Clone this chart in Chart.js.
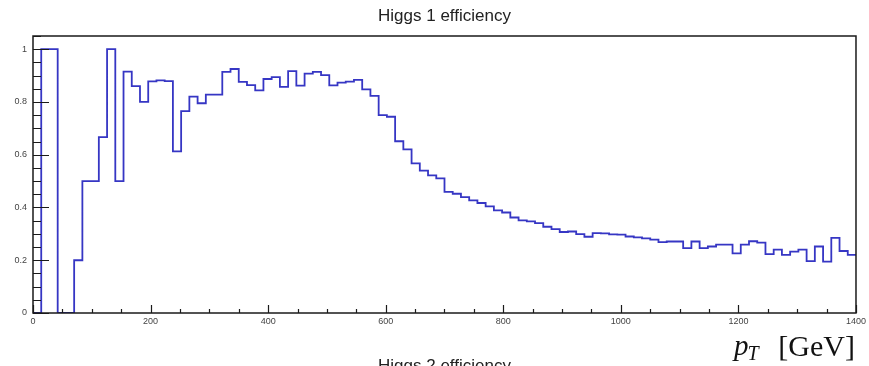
<!DOCTYPE html>
<html><head><meta charset="utf-8">
<script src="https://cdn.jsdelivr.net/npm/chart.js@4/dist/chart.umd.min.js"></script>
<style>html,body{margin:0;padding:0;background:#fff;overflow:hidden}#wrap{width:869px;height:366px;position:relative}</style>
</head><body><div id="wrap"><canvas id="c" width="869" height="366"></canvas></div>
<script>
// ---- data ----
const chartTitle = "Higgs 1 efficiency";
const nextPadTitle = "Higgs 2 efficiency";
const xAxisVar = "p";
const xAxisSub = "T";
const xAxisUnit = "[GeV]";
const binLowEdge = 0;      // GeV
const binWidth = 14;       // GeV
const xRange = [0, 1400];
const yRange = [0, 1.05];
const xTickLabels = [0, 200, 400, 600, 800, 1000, 1200, 1400];
const yTickLabels = [0, 0.2, 0.4, 0.6, 0.8, 1];
const efficiency = [
  0, 1, 1, 0, 0, 0.2, 0.5, 0.5, 0.667, 1.0,
  0.5, 0.915, 0.86, 0.80, 0.878, 0.882, 0.879, 0.613, 0.765, 0.82,
  0.795, 0.828, 0.828, 0.914, 0.925, 0.876, 0.864, 0.844, 0.887, 0.894,
  0.857, 0.917, 0.862, 0.907, 0.914, 0.902, 0.863, 0.873, 0.877, 0.884,
  0.848, 0.823, 0.75, 0.744, 0.651, 0.62, 0.567, 0.54, 0.522, 0.51,
  0.459, 0.452, 0.439, 0.427, 0.417, 0.404, 0.389, 0.381, 0.362, 0.351,
  0.347, 0.341, 0.327, 0.318, 0.307, 0.309, 0.299, 0.289, 0.303, 0.302,
  0.298, 0.297, 0.29, 0.287, 0.283, 0.278, 0.269, 0.271, 0.271, 0.246,
  0.271, 0.246, 0.252, 0.259, 0.259, 0.226, 0.259, 0.272, 0.267, 0.223,
  0.24, 0.22, 0.233, 0.24, 0.197, 0.252, 0.195, 0.285, 0.235, 0.22
];

// step outline: points at bin low edges (+ final upper edge), horizontal-first steps
const points = efficiency.map((v, i) => ({x: binLowEdge + i * binWidth, y: v}));
points.push({x: binLowEdge + efficiency.length * binWidth, y: efficiency[efficiency.length - 1]});

const rootFrame = {
  id: 'rootFrame',
  afterDraw(chart) {
    const ctx = chart.ctx, a = chart.chartArea;
    const xs = chart.scales.x, ys = chart.scales.y;
    ctx.save();
    ctx.strokeStyle = '#1a1a1a';
    ctx.lineWidth = 1.5;
    ctx.strokeRect(a.left, a.top, a.right - a.left, a.bottom - a.top);
    ctx.lineWidth = 1.2;
    ctx.beginPath();
    for (let k = 0; k * 0.05 <= yRange[1] + 1e-9; k++) {
      const py = Math.round(ys.getPixelForValue(k * 0.05)) + 0.5;
      const len = (k % 4 === 0) ? 16 : 8;
      ctx.moveTo(a.left, py); ctx.lineTo(a.left + len, py);
    }
    for (let g = xRange[0]; g <= xRange[1]; g += 50) {
      const px = Math.round(xs.getPixelForValue(g)) + 0.5;
      const len = (g % 200 === 0) ? 8 : 4;
      ctx.moveTo(px, a.bottom); ctx.lineTo(px, a.bottom - len);
    }
    ctx.stroke();

    ctx.fillStyle = '#222';
    ctx.font = '17px "Liberation Sans", Arial, sans-serif';
    ctx.textAlign = 'center';
    ctx.textBaseline = 'alphabetic';
    const cx = (a.left + a.right) / 2;
    ctx.fillText(chartTitle, cx, 21);
    ctx.fillText(nextPadTitle, cx, 371);

    ctx.fillStyle = '#111';
    ctx.textAlign = 'left';
    ctx.font = 'italic 29px "Liberation Serif", serif';
    const px0 = 734;
    ctx.fillText(xAxisVar, px0, 355);
    const pw = ctx.measureText(xAxisVar).width;
    ctx.font = 'italic 20px "Liberation Serif", serif';
    ctx.fillText(xAxisSub, px0 + pw - 1, 360);
    ctx.font = '30px "Liberation Serif", serif';
    ctx.textAlign = 'right';
    ctx.fillText(xAxisUnit, 855, 356);
    ctx.restore();
  }
};

new Chart(document.getElementById('c'), {
  type: 'line',
  data: {
    datasets: [{
      data: points,
      stepped: 'before',
      borderColor: '#3636c4',
      borderWidth: 1.8,
      pointRadius: 0,
      fill: false,
      tension: 0
    }]
  },
  options: {
    responsive: false,
    animation: false,
    devicePixelRatio: 1,
    layout: {padding: {top: 36, right: 12, left: 0, bottom: 0}},
    plugins: {legend: {display: false}, title: {display: false}, tooltip: {enabled: false}},
    scales: {
      x: {
        type: 'linear', min: xRange[0], max: xRange[1],
        afterBuildTicks: s => { s.ticks = xTickLabels.map(v => ({value: v})); },
        afterFit: s => { s.height = 53; },
        ticks: {font: {family: '"Liberation Sans", Arial, sans-serif', size: 9}, color: '#444', padding: 3, maxRotation: 0, autoSkip: false,
                callback: v => String(v)},
        grid: {display: false, drawTicks: false},
        border: {display: false}
      },
      y: {
        type: 'linear', min: yRange[0], max: yRange[1],
        afterBuildTicks: s => { s.ticks = yTickLabels.map(v => ({value: v})); },
        afterFit: s => { s.width = 33; },
        ticks: {font: {family: '"Liberation Sans", Arial, sans-serif', size: 9}, color: '#444', padding: 6,
                callback: v => String(v)},
        grid: {display: false, drawTicks: false},
        border: {display: false}
      }
    }
  },
  plugins: [rootFrame]
});
</script>
</body></html>
